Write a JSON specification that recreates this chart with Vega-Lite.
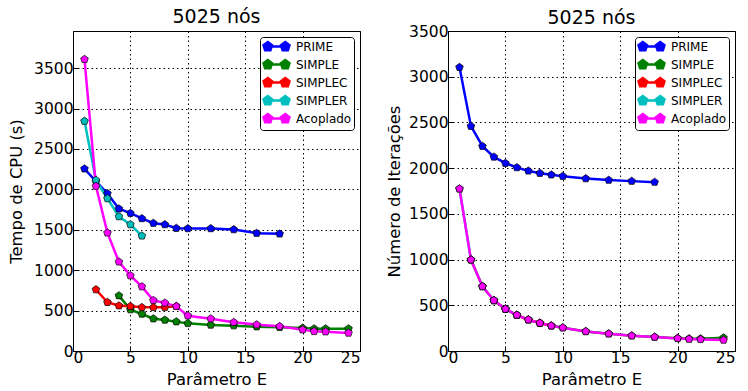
{
  "$schema": "https://vega.github.io/schema/vega-lite/v6.json",
  "background": "white",
  "padding": {"left": 8, "top": 7, "right": 0, "bottom": 0},
  "bounds": "flush",
  "spacing": 88,
  "config": {
    "font": "DejaVu Sans",
    "view": {"stroke": "black", "strokeWidth": 1},
    "axis": {
      "labelFont": "DejaVu Sans", "labelFontSize": 15.5, "labelColor": "black",
      "titleFont": "DejaVu Sans", "titleFontSize": 16.4, "titleFontWeight": "normal", "titleColor": "black",
      "domainColor": "black", "tickColor": "black", "tickSize": -5, "tickWidth": 1, "labelPadding": 5,
      "grid": true, "gridColor": "black", "gridDash": [1.5, 3], "gridOpacity": 1, "gridWidth": 1, "format": "d"
    },
    "title": {"font": "DejaVu Sans", "fontSize": 19, "fontWeight": "normal", "color": "black", "offset": 6},
    "legend": {
      "orient": "top-right", "offset": 6, "padding": 2, "fillColor": "white", "strokeColor": "black",
      "cornerRadius": 3, "labelFont": "DejaVu Sans", "labelFontSize": 12, "labelColor": "black",
      "symbolSize": 144, "labelOffset": 19, "rowPadding": -1
    }
  },
  "datasets": {
    "cpu": [
      {"metodo": "PRIME", "E": 1, "valor": 2255}, {"metodo": "PRIME", "E": 2, "valor": 2100}, {"metodo": "PRIME", "E": 3, "valor": 1949},
      {"metodo": "PRIME", "E": 4, "valor": 1760}, {"metodo": "PRIME", "E": 5, "valor": 1706}, {"metodo": "PRIME", "E": 6, "valor": 1640},
      {"metodo": "PRIME", "E": 7, "valor": 1582}, {"metodo": "PRIME", "E": 8, "valor": 1565}, {"metodo": "PRIME", "E": 9, "valor": 1520},
      {"metodo": "PRIME", "E": 10, "valor": 1516}, {"metodo": "PRIME", "E": 12, "valor": 1516}, {"metodo": "PRIME", "E": 14, "valor": 1503},
      {"metodo": "PRIME", "E": 16, "valor": 1458}, {"metodo": "PRIME", "E": 18, "valor": 1450},
      {"metodo": "SIMPLE", "E": 4, "valor": 685}, {"metodo": "SIMPLE", "E": 5, "valor": 512}, {"metodo": "SIMPLE", "E": 6, "valor": 458},
      {"metodo": "SIMPLE", "E": 7, "valor": 400}, {"metodo": "SIMPLE", "E": 8, "valor": 384}, {"metodo": "SIMPLE", "E": 9, "valor": 363},
      {"metodo": "SIMPLE", "E": 10, "valor": 342}, {"metodo": "SIMPLE", "E": 12, "valor": 322}, {"metodo": "SIMPLE", "E": 14, "valor": 314},
      {"metodo": "SIMPLE", "E": 16, "valor": 301}, {"metodo": "SIMPLE", "E": 18, "valor": 293}, {"metodo": "SIMPLE", "E": 20, "valor": 285},
      {"metodo": "SIMPLE", "E": 21, "valor": 276}, {"metodo": "SIMPLE", "E": 22, "valor": 276}, {"metodo": "SIMPLE", "E": 24, "valor": 276},
      {"metodo": "SIMPLEC", "E": 2, "valor": 760}, {"metodo": "SIMPLEC", "E": 3, "valor": 603}, {"metodo": "SIMPLEC", "E": 4, "valor": 561},
      {"metodo": "SIMPLEC", "E": 5, "valor": 553}, {"metodo": "SIMPLEC", "E": 6, "valor": 540}, {"metodo": "SIMPLEC", "E": 7, "valor": 540},
      {"metodo": "SIMPLEC", "E": 8, "valor": 540}, {"metodo": "SIMPLEC", "E": 9, "valor": 553},
      {"metodo": "SIMPLER", "E": 1, "valor": 2845}, {"metodo": "SIMPLER", "E": 2, "valor": 2114}, {"metodo": "SIMPLER", "E": 3, "valor": 1887},
      {"metodo": "SIMPLER", "E": 4, "valor": 1664}, {"metodo": "SIMPLER", "E": 5, "valor": 1565}, {"metodo": "SIMPLER", "E": 6, "valor": 1425},
      {"metodo": "Acoplado", "E": 1, "valor": 3610}, {"metodo": "Acoplado", "E": 2, "valor": 2040}, {"metodo": "Acoplado", "E": 3, "valor": 1462},
      {"metodo": "Acoplado", "E": 4, "valor": 1103}, {"metodo": "Acoplado", "E": 5, "valor": 933}, {"metodo": "Acoplado", "E": 6, "valor": 797},
      {"metodo": "Acoplado", "E": 7, "valor": 627}, {"metodo": "Acoplado", "E": 8, "valor": 595}, {"metodo": "Acoplado", "E": 9, "valor": 553},
      {"metodo": "Acoplado", "E": 10, "valor": 437}, {"metodo": "Acoplado", "E": 12, "valor": 400}, {"metodo": "Acoplado", "E": 14, "valor": 355},
      {"metodo": "Acoplado", "E": 16, "valor": 326}, {"metodo": "Acoplado", "E": 18, "valor": 305}, {"metodo": "Acoplado", "E": 20, "valor": 264},
      {"metodo": "Acoplado", "E": 21, "valor": 243}, {"metodo": "Acoplado", "E": 22, "valor": 239}, {"metodo": "Acoplado", "E": 24, "valor": 223}
    ],
    "iter": [
      {"metodo": "PRIME", "E": 1, "valor": 3104}, {"metodo": "PRIME", "E": 2, "valor": 2459}, {"metodo": "PRIME", "E": 3, "valor": 2240},
      {"metodo": "PRIME", "E": 4, "valor": 2123}, {"metodo": "PRIME", "E": 5, "valor": 2054}, {"metodo": "PRIME", "E": 6, "valor": 2007},
      {"metodo": "PRIME", "E": 7, "valor": 1970}, {"metodo": "PRIME", "E": 8, "valor": 1945}, {"metodo": "PRIME", "E": 9, "valor": 1927},
      {"metodo": "PRIME", "E": 10, "valor": 1912}, {"metodo": "PRIME", "E": 12, "valor": 1886}, {"metodo": "PRIME", "E": 14, "valor": 1869},
      {"metodo": "PRIME", "E": 16, "valor": 1858}, {"metodo": "PRIME", "E": 18, "valor": 1847},
      {"metodo": "SIMPLE", "E": 4, "valor": 553}, {"metodo": "SIMPLE", "E": 5, "valor": 459}, {"metodo": "SIMPLE", "E": 6, "valor": 393},
      {"metodo": "SIMPLE", "E": 7, "valor": 342}, {"metodo": "SIMPLE", "E": 8, "valor": 306}, {"metodo": "SIMPLE", "E": 9, "valor": 276},
      {"metodo": "SIMPLE", "E": 10, "valor": 255}, {"metodo": "SIMPLE", "E": 12, "valor": 214}, {"metodo": "SIMPLE", "E": 14, "valor": 189},
      {"metodo": "SIMPLE", "E": 16, "valor": 167}, {"metodo": "SIMPLE", "E": 18, "valor": 153}, {"metodo": "SIMPLE", "E": 20, "valor": 140},
      {"metodo": "SIMPLE", "E": 21, "valor": 135}, {"metodo": "SIMPLE", "E": 22, "valor": 135}, {"metodo": "SIMPLE", "E": 24, "valor": 145},
      {"metodo": "SIMPLEC", "E": 2, "valor": 998}, {"metodo": "SIMPLEC", "E": 3, "valor": 706}, {"metodo": "SIMPLEC", "E": 4, "valor": 553},
      {"metodo": "SIMPLEC", "E": 5, "valor": 459}, {"metodo": "SIMPLEC", "E": 6, "valor": 393}, {"metodo": "SIMPLEC", "E": 7, "valor": 342},
      {"metodo": "SIMPLEC", "E": 8, "valor": 306}, {"metodo": "SIMPLEC", "E": 9, "valor": 276},
      {"metodo": "SIMPLER", "E": 1, "valor": 1774}, {"metodo": "SIMPLER", "E": 2, "valor": 998}, {"metodo": "SIMPLER", "E": 3, "valor": 706},
      {"metodo": "SIMPLER", "E": 4, "valor": 553}, {"metodo": "SIMPLER", "E": 5, "valor": 459}, {"metodo": "SIMPLER", "E": 6, "valor": 393},
      {"metodo": "Acoplado", "E": 1, "valor": 1774}, {"metodo": "Acoplado", "E": 2, "valor": 998}, {"metodo": "Acoplado", "E": 3, "valor": 706},
      {"metodo": "Acoplado", "E": 4, "valor": 553}, {"metodo": "Acoplado", "E": 5, "valor": 459}, {"metodo": "Acoplado", "E": 6, "valor": 393},
      {"metodo": "Acoplado", "E": 7, "valor": 342}, {"metodo": "Acoplado", "E": 8, "valor": 306}, {"metodo": "Acoplado", "E": 9, "valor": 276},
      {"metodo": "Acoplado", "E": 10, "valor": 255}, {"metodo": "Acoplado", "E": 12, "valor": 214}, {"metodo": "Acoplado", "E": 14, "valor": 189},
      {"metodo": "Acoplado", "E": 16, "valor": 167}, {"metodo": "Acoplado", "E": 18, "valor": 153}, {"metodo": "Acoplado", "E": 20, "valor": 138},
      {"metodo": "Acoplado", "E": 21, "valor": 131}, {"metodo": "Acoplado", "E": 22, "valor": 127}, {"metodo": "Acoplado", "E": 24, "valor": 120}
    ]
  },
  "resolve": {"scale": {"y": "independent", "color": "independent"}, "legend": {"color": "independent"}},
  "hconcat": [
    {
      "width": 287, "height": 320,
      "title": {"text": "5025 nós", "offset": 4},
      "data": {"name": "cpu"},
      "encoding": {
        "x": {"field": "E", "type": "quantitative", "title": "Parâmetro E",
              "scale": {"domain": [0, 25], "nice": false, "zero": false},
              "axis": {"values": [0, 5, 10, 15, 20, 25], "titlePadding": 6, "labelPadding": 4, "grid": true}},
        "y": {"field": "valor", "type": "quantitative", "title": "Tempo de CPU (s)",
              "scale": {"domain": [0, 3960], "nice": false},
              "axis": {"values": [0, 500, 1000, 1500, 2000, 2500, 3000, 3500], "titlePadding": 9, "grid": true}},
        "color": {"field": "metodo", "type": "nominal", "title": null,
                  "scale": {"domain": ["PRIME", "SIMPLE", "SIMPLEC", "SIMPLER", "Acoplado"],
                            "range": ["#0000ff", "#008000", "#ff0000", "#00bfbf", "#ff00ff"]},
                  "legend": {
                    "symbolType": "M-0.29,0L2.62,0M-0.29,-0.75L0.42,-0.23L0.15,0.61L-0.73,0.61L-1,-0.23ZM2.62,-0.75L3.33,-0.23L3.06,0.61L2.18,0.61L1.91,-0.23Z",
                    "encode": {"symbols": {"update": {
                      "fill": {"signal": "{'PRIME':'#0000ff','SIMPLE':'#008000','SIMPLEC':'#ff0000','SIMPLER':'#00bfbf','Acoplado':'#ff00ff'}[datum.value]"},
                      "stroke": {"signal": "{'PRIME':'#0000ff','SIMPLE':'#008000','SIMPLEC':'#ff0000','SIMPLER':'#00bfbf','Acoplado':'#ff00ff'}[datum.value]"},
                      "strokeWidth": {"value": 2.5}, "opacity": {"value": 1}}}}
                  }}
      },
      "layer": [
        {"mark": {"type": "line", "strokeWidth": 2.5}},
        {"mark": {"type": "point", "filled": true, "opacity": 1, "size": 64, "stroke": "black", "strokeWidth": 0.7,
                  "shape": "M0,-1L0.951,-0.309L0.588,0.809L-0.588,0.809L-0.951,-0.309Z"}}
      ]
    },
    {
      "width": 287, "height": 320,
      "title": {"text": "5025 nós", "offset": -4},
      "data": {"name": "iter"},
      "encoding": {
        "x": {"field": "E", "type": "quantitative", "title": "Parâmetro E",
              "scale": {"domain": [0, 25], "nice": false, "zero": false},
              "axis": {"values": [0, 5, 10, 15, 20, 25], "titlePadding": 6, "labelPadding": 4, "grid": true}},
        "y": {"field": "valor", "type": "quantitative", "title": "Número de Iterações",
              "scale": {"domain": [0, 3500], "nice": false},
              "axis": {"values": [0, 500, 1000, 1500, 2000, 2500, 3000, 3500], "titlePadding": 6, "grid": true}},
        "color": {"field": "metodo", "type": "nominal", "title": null,
                  "scale": {"domain": ["PRIME", "SIMPLE", "SIMPLEC", "SIMPLER", "Acoplado"],
                            "range": ["#0000ff", "#008000", "#ff0000", "#00bfbf", "#ff00ff"]},
                  "legend": {
                    "symbolType": "M-0.29,0L2.62,0M-0.29,-0.75L0.42,-0.23L0.15,0.61L-0.73,0.61L-1,-0.23ZM2.62,-0.75L3.33,-0.23L3.06,0.61L2.18,0.61L1.91,-0.23Z",
                    "encode": {"symbols": {"update": {
                      "fill": {"signal": "{'PRIME':'#0000ff','SIMPLE':'#008000','SIMPLEC':'#ff0000','SIMPLER':'#00bfbf','Acoplado':'#ff00ff'}[datum.value]"},
                      "stroke": {"signal": "{'PRIME':'#0000ff','SIMPLE':'#008000','SIMPLEC':'#ff0000','SIMPLER':'#00bfbf','Acoplado':'#ff00ff'}[datum.value]"},
                      "strokeWidth": {"value": 2.5}, "opacity": {"value": 1}}}}
                  }}
      },
      "layer": [
        {"mark": {"type": "line", "strokeWidth": 2.5}},
        {"mark": {"type": "point", "filled": true, "opacity": 1, "size": 64, "stroke": "black", "strokeWidth": 0.7,
                  "shape": "M0,-1L0.951,-0.309L0.588,0.809L-0.588,0.809L-0.951,-0.309Z"}}
      ]
    }
  ]
}
